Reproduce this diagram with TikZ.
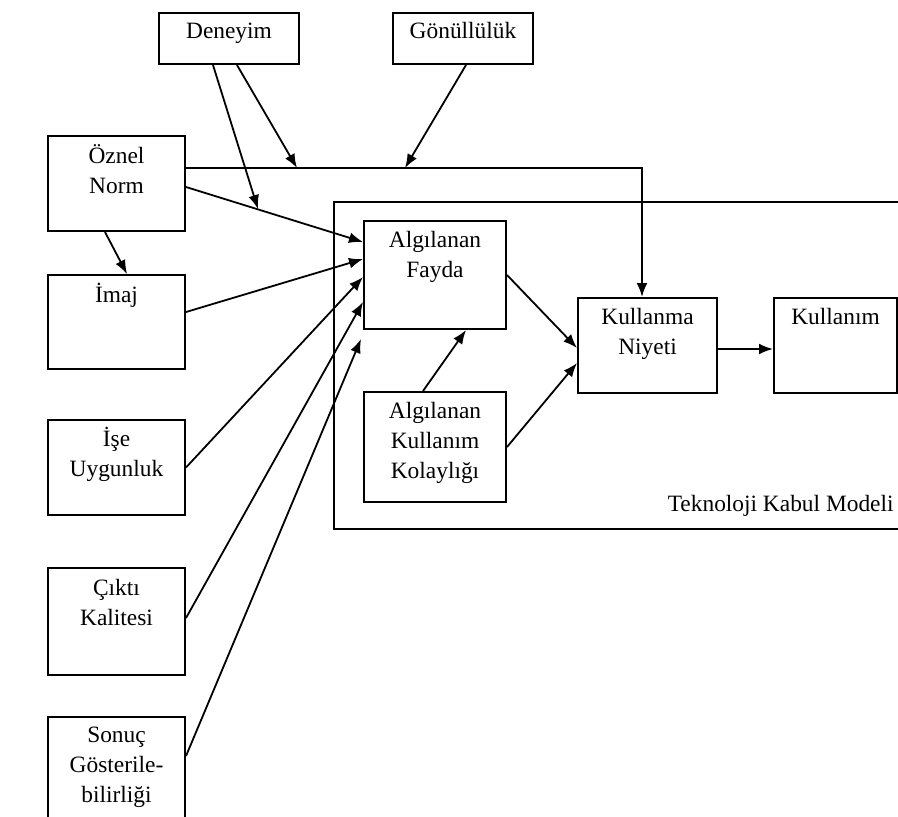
\documentclass[tikz,border=0pt]{standalone}
\usepackage{fontspec}
\setmainfont{Liberation Serif}
\usetikzlibrary{arrows.meta,calc}

\tikzset{
  box/.style={draw, line width=1pt, inner sep=0pt, rectangle},
  lbl/.style={anchor=base, inner sep=0pt, text width=70pt, align=center,
              font=\fontsize{11.7}{15}\selectfont},
  arr/.style={line width=0.9pt, -{Latex[length=7pt,width=5.4pt]}},
}

\begin{document}
\begin{tikzpicture}[x=0.5pt, y=-0.5pt]
\useasboundingbox (0,0) rectangle (898,816);
\clip (0,0) rectangle (898,816);

% outer frame of the acceptance model (runs past the right edge)
\node[box, minimum width=288pt, minimum height=163.5pt] (tkm) at (622,365.5) {};

% external factors
\node[box, minimum width=70pt, minimum height=25.5pt] (deneyim) at (229,38.5) {};
\node[box, minimum width=70pt, minimum height=25.5pt] (gonul) at (463,38.5) {};
\node[box, minimum width=68.5pt, minimum height=47.5pt] (oznel) at (116.5,183.5) {};
\node[box, minimum width=68.5pt, minimum height=47pt] (imaj) at (116.5,322) {};
\node[box, minimum width=68.5pt, minimum height=47.5pt] (ise) at (116.5,467.5) {};
\node[box, minimum width=68.5pt, minimum height=53.5pt] (cikti) at (116.5,621.5) {};
\node[box, minimum width=68.5pt, minimum height=56.5pt] (sonuc) at (116.5,773.5) {};

% core model
\node[box, minimum width=71pt, minimum height=54pt] (fayda) at (435,275) {};
\node[box, minimum width=71pt, minimum height=55pt] (kolay) at (435,447) {};
\node[box, minimum width=69.5pt, minimum height=47.5pt] (niyeti) at (647.5,345.5) {};
\node[box, minimum width=61.5pt, minimum height=47.5pt] (kullanim) at (835.5,345.5) {};

% box texts, first baseline near the top of each box
\node[lbl] (tdeneyim) at ([yshift=-13pt]deneyim.north) {Deneyim};
\node[lbl] (tgonul) at ([yshift=-13pt]gonul.north) {Gönüllülük};
\node[lbl] (toznel) at ([yshift=-14pt]oznel.north) {Öznel\\Norm};
\node[lbl] (timaj) at ([yshift=-14pt]imaj.north) {İmaj};
\node[lbl] (tise) at ([yshift=-13.75pt]ise.north) {İşe\\Uygunluk};
\node[lbl] (tcikti) at ([yshift=-14.25pt]cikti.north) {Çıktı\\Kalitesi};
\node[lbl] (tsonuc) at ([yshift=-13pt]sonuc.north) {Sonuç\\Gösterile-\\bilirliği};
\node[lbl] (tfayda) at ([yshift=-13.75pt]fayda.north) {Algılanan\\Fayda};
\node[lbl] (tkolay) at ([yshift=-13.75pt]kolay.north) {Algılanan\\Kullanım\\Kolaylığı};
\node[lbl] (tniyeti) at ([yshift=-13.5pt]niyeti.north) {Kullanma\\Niyeti};
\node[lbl] (tkullanim) at ([yshift=-13.5pt]kullanim.north) {Kullanım};
\node[lbl, anchor=base east, text width=] (ttkm)
  at ([xshift=-2pt,yshift=9.5pt]tkm.south -| kullanim.east) {Teknoloji Kabul Modeli};

% direct effects on perceived usefulness
\draw[arr] ([yshift=-1.75pt]oznel.east) -- ([yshift=-11pt]fayda.north west);
\draw[arr] ([yshift=5pt]imaj.east) -- ([yshift=-19.5pt]fayda.north west);
\draw[arr] (ise.east) -- ([yshift=-28.5pt]fayda.north west);
\draw[arr] ([yshift=1.75pt]cikti.east) -- ([yshift=-41pt]fayda.north west);
\draw[arr] ([yshift=-20pt]sonuc.north east) -- ([xshift=-1pt,yshift=-59.5pt]fayda.north west);

% subjective norm to image
\draw[arr] ([xshift=-5.75pt]oznel.south) -- ([xshift=5.25pt]imaj.north);

% subjective norm to intention
\draw[arr] ([yshift=7.75pt]oznel.east) -| ([xshift=-2.75pt]niyeti.north);

% moderators
\coordinate (m1) at (258,209);
\coordinate (m2) at (297,168);
\coordinate (m3) at (405,168);
\draw[arr] ([xshift=-8pt]deneyim.south) -- (m1);
\draw[arr] ([xshift=4pt]deneyim.south) -- (m2);
\draw[arr] ([xshift=1.5pt]gonul.south) -- (m3);

% core model links
\draw[arr] ([xshift=-6pt]kolay.north) -- ([xshift=15.5pt]fayda.south);
\draw[arr] (fayda.east) -- ([yshift=-1.25pt]niyeti.west);
\draw[arr] (kolay.east) -- ([yshift=-8.75pt]niyeti.west);
\draw[arr] ([yshift=-1.75pt]niyeti.east) -- ([yshift=-1.75pt]kullanim.west);
\end{tikzpicture}
\end{document}
